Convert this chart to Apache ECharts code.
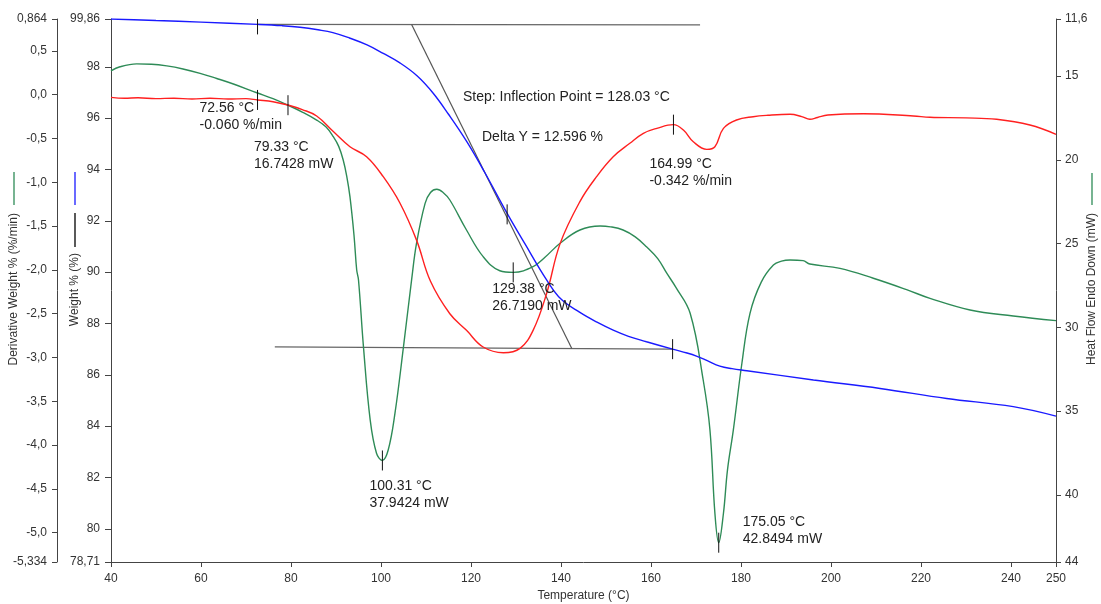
<!DOCTYPE html>
<html>
<head>
<meta charset="utf-8">
<script src="https://cdn.jsdelivr.net/npm/echarts@6/dist/echarts.min.js"></script>
<style>html,body{margin:0;padding:0;background:#fff}#c{width:1101px;height:604px}</style>
</head>
<body>
<div id="c"></div>
<script>
// ---------------- DATA ----------------
// Weight % (blue) vs temperature
const weightTemp = [40, 50, 60, 72.6, 78, 82, 86, 89.3, 93, 96.9, 100.5, 104.2, 108, 111.6, 115, 119, 123, 128, 132, 136.8, 140, 144.2, 148, 151.6, 155, 159, 164.8, 168, 170.1, 172.5, 175.3, 178, 181.3, 196.1, 210.9, 225.7, 240.5, 250];
const weightVal  = [99.86, 99.80, 99.74, 99.65, 99.60, 99.54, 99.44, 99.33, 99.12, 98.85, 98.52, 98.15, 97.65, 96.97, 96.15, 95.1, 93.9, 92.3, 91.1, 89.7, 88.95, 88.43, 88.05, 87.74, 87.5, 87.29, 87.0, 86.85, 86.73, 86.55, 86.34, 86.24, 86.16, 85.8, 85.47, 85.08, 84.76, 84.39];

// Derivative weight %/min (red)
const derivTemp = [40, 43, 46, 50, 54, 58, 62, 66, 70, 72.6, 76, 79.3, 82.5, 85.7, 89.4, 93.1, 96.8, 100.5, 104.2, 107.9, 111, 115.3, 119, 122.7, 127.2, 130.9, 133.8, 136.8, 139.8, 144.2, 147.9, 151.6, 155.3, 158.3, 161.3, 164.99, 167.2, 169.4, 172.4, 174.2, 176.1, 179, 182.7, 186, 190.9, 193.5, 195.3, 197, 199.3, 207.2, 218.3, 222, 230, 236.8, 244.2, 250];
const derivVal  = [-0.03, -0.04, -0.035, -0.045, -0.04, -0.05, -0.04, -0.05, -0.045, -0.06, -0.08, -0.118, -0.17, -0.243, -0.42, -0.594, -0.708, -0.936, -1.236, -1.66, -2.13, -2.50, -2.69, -2.88, -2.945, -2.895, -2.69, -2.27, -1.70, -1.22, -0.936, -0.708, -0.555, -0.441, -0.384, -0.342, -0.403, -0.537, -0.624, -0.594, -0.384, -0.289, -0.251, -0.235, -0.224, -0.25, -0.281, -0.26, -0.232, -0.217, -0.243, -0.258, -0.265, -0.281, -0.346, -0.452];

// Heat flow mW (green)
const heatTemp = [40, 42, 45.7, 49, 52.4, 56, 59.8, 63.5, 67.2, 72.4, 76, 79.3, 82.5, 85.7, 87.8, 89.4, 90.6, 91.6, 92.4, 93.1, 94, 94.6, 95, 96.1, 97.6, 99, 100.3, 101.6, 103.1, 105, 106.8, 107.9, 109.8, 111, 112.4, 113.8, 115.3, 119, 122.7, 126.4, 129.4, 133.8, 136.5, 139.8, 144.2, 148.7, 151, 153.8, 156.5, 159, 161.5, 163.5, 165.5, 168.7, 171.6, 173.1, 174.2, 175.05, 176.1, 177, 178.3, 180.2, 182, 184.5, 187.2, 189, 190.9, 193.8, 195.3, 202, 209.4, 216.8, 222, 230.9, 240.5, 250];
const heatVal  = [14.70, 14.45, 14.28, 14.3, 14.40, 14.58, 14.84, 15.15, 15.48, 16.0, 16.35, 16.74, 17.15, 17.63, 18.05, 18.62, 19.2, 20.01, 21.0, 22.2, 24.5, 26.58, 27.17, 31.15, 35.53, 37.51, 37.94, 37.32, 35.13, 31.15, 27.17, 24.98, 22.6, 21.95, 21.76, 21.95, 22.4, 24.19, 25.78, 26.62, 26.72, 26.38, 25.8, 24.98, 24.19, 23.95, 24.0, 24.19, 24.6, 25.19, 25.9, 26.77, 27.6, 29.16, 33.14, 36.12, 41.09, 42.85, 41.09, 38.5, 36.12, 32.14, 29.16, 27.3, 26.28, 26.05, 25.98, 26.02, 26.22, 26.48, 27.07, 27.75, 28.27, 28.96, 29.32, 29.6];

// Step analysis construction lines (weight axis)
const onsetLineTemp = [72.6, 170.9];
const onsetLineVal  = [99.65, 99.63];
const endLineTemp   = [76.4, 164.8];
const endLineVal    = [87.09, 87.0];
const tangentTemp   = [106.8, 142.4];
const tangentVal    = [99.65, 87.03];

// Marked points
const weightMarkTemp = [72.56, 128.03, 164.8];
const weightMarkVal  = [99.65, 92.25, 87.0];
const derivPeakTemp  = [72.56, 164.99];
const derivPeakVal   = [-0.060, -0.342];
const heatPeakTemp   = [79.33, 100.31, 129.38, 175.05];
const heatPeakVal    = [16.7428, 37.9424, 26.7190, 42.8494];

const stepTexts = ['Step: Inflection Point = 128.03 °C', 'Delta Y = 12.596 %'];

// Tick labels
const tempTicks = [40, 60, 80, 100, 120, 140, 160, 180, 200, 220, 240, 250];
const derivTicks = [0.864, 0.5, 0, -0.5, -1, -1.5, -2, -2.5, -3, -3.5, -4, -4.5, -5, -5.334];
const derivTickLabels = ['0,864', '0,5', '0,0', '-0,5', '-1,0', '-1,5', '-2,0', '-2,5', '-3,0', '-3,5', '-4,0', '-4,5', '-5,0', '-5,334'];
const weightTicks = [99.86, 98, 96, 94, 92, 90, 88, 86, 84, 82, 80, 78.71];
const weightTickLabels = ['99,86', '98', '96', '94', '92', '90', '88', '86', '84', '82', '80', '78,71'];
const heatTicks = [11.6, 15, 20, 25, 30, 35, 40, 44];
const heatTickLabels = ['11,6', '15', '20', '25', '30', '35', '40', '44'];

// ---------------- LAYOUT / STYLE ----------------
const FONT = '"Liberation Sans", Arial, sans-serif';
const C_BLUE = '#1a1aff', C_RED = '#ff2020', C_GREEN = '#2e8b57', C_AX = '#444', C_TXT = '#333';
const derivLabelOffsets = [[-58, 0], [-24, 31]];
const heatLabelOffsets = [[-34, 33], [-13, 17], [-21, 8], [24, -29]];

function pairs(xs, ys) { return xs.map((x, i) => [x, ys[i]]); }
function fmt(ticks, labels) {
  return v => { const i = ticks.findIndex(t => Math.abs(t - v) < 1e-6); return i >= 0 ? labels[i] : ''; };
}
function lineSeries(xs, ys, yIdx, color, width, smooth) {
  return { type: 'line', xAxisIndex: 0, yAxisIndex: yIdx, data: pairs(xs, ys), showSymbol: false, symbol: 'none',
    smooth: smooth, silent: true, lineStyle: { color: color, width: width }, animation: false };
}
function tickSeries(xs, ys, yIdx) {
  return { type: 'custom', xAxisIndex: 0, yAxisIndex: yIdx, data: pairs(xs, ys), silent: true, z: 6, clip: true, animation: false,
    renderItem: (params, api) => {
      const p = api.coord([api.value(0), api.value(1)]);
      return { type: 'line', shape: { x1: p[0], y1: p[1] - 10, x2: p[0], y2: p[1] + 10 }, style: { stroke: '#111', lineWidth: 1 } };
    } };
}
function labelSeries(xs, ys, yIdx, offsets, textFn) {
  return { type: 'custom', xAxisIndex: 0, yAxisIndex: yIdx, data: pairs(xs, ys), silent: true, z: 7, animation: false,
    renderItem: (params, api) => {
      const i = params.dataIndex;
      const p = api.coord([api.value(0), api.value(1)]);
      return { type: 'text', x: p[0] + offsets[i][0], y: p[1] + offsets[i][1],
        style: { text: textFn(xs[i], ys[i]), fontSize: 14, fontFamily: FONT, fill: '#222', align: 'left', verticalAlign: 'top', lineHeight: 17 } };
    } };
}
function yAx(opts) {
  return Object.assign({
    type: 'value', splitLine: { show: false },
    axisLine: { show: true, lineStyle: { color: C_AX, width: 1 } },
    axisTick: { show: true, length: 5, lineStyle: { color: C_AX } },
    axisLabel: { color: C_TXT, fontSize: 12, fontFamily: FONT, margin: 11, showMinLabel: true, showMaxLabel: true }
  }, opts);
}

const chart = echarts.init(document.getElementById('c'), null, { renderer: 'canvas' });
const option = {
  animation: false,
  backgroundColor: '#fff',
  grid: { left: 111, right: 45, top: 19, bottom: 42, containLabel: false, outerBoundsMode: 'none' },
  xAxis: {
    type: 'value', min: 40, max: 250,
    name: 'Temperature (°C)', nameLocation: 'middle', nameGap: 26,
    nameTextStyle: { color: C_TXT, fontSize: 12, fontFamily: FONT },
    splitLine: { show: false },
    axisLine: { onZero: false, lineStyle: { color: C_AX } },
    axisTick: { length: 5, customValues: tempTicks, lineStyle: { color: C_AX } },
    axisLabel: { customValues: tempTicks, color: C_TXT, fontSize: 12, fontFamily: FONT, margin: 11 }
  },
  yAxis: [
    yAx({ min: 78.71, max: 99.86, position: 'left', offset: 0,
      axisTick: { show: true, length: 6, customValues: weightTicks, lineStyle: { color: C_AX } },
      axisLabel: { customValues: weightTicks, formatter: fmt(weightTicks, weightTickLabels), color: C_TXT, fontSize: 12, fontFamily: FONT, margin: 11 } }),
    yAx({ min: -5.334, max: 0.864, position: 'left', offset: 54,
      axisTick: { show: true, length: 5, customValues: derivTicks, lineStyle: { color: C_AX } },
      axisLabel: { customValues: derivTicks, formatter: fmt(derivTicks, derivTickLabels), color: C_TXT, fontSize: 12, fontFamily: FONT, margin: 10 } }),
    yAx({ min: 11.6, max: 44, inverse: true, position: 'right', offset: 0,
      axisTick: { show: true, length: 5, customValues: heatTicks, lineStyle: { color: C_AX } },
      axisLabel: { customValues: heatTicks, formatter: fmt(heatTicks, heatTickLabels), color: C_TXT, fontSize: 12, fontFamily: FONT, margin: 9 } })
  ],
  series: [
    lineSeries(onsetLineTemp, onsetLineVal, 0, '#666', 1.2, false),
    lineSeries(endLineTemp, endLineVal, 0, '#666', 1.2, false),
    lineSeries(tangentTemp, tangentVal, 0, '#555', 1.2, false),
    lineSeries(heatTemp, heatVal, 2, C_GREEN, 1.4, 0.4),
    lineSeries(derivTemp, derivVal, 1, C_RED, 1.4, 0.4),
    lineSeries(weightTemp, weightVal, 0, C_BLUE, 1.4, 0.4),
    tickSeries(weightMarkTemp, weightMarkVal, 0),
    tickSeries(derivPeakTemp, derivPeakVal, 1),
    tickSeries(heatPeakTemp, heatPeakVal, 2),
    labelSeries(derivPeakTemp, derivPeakVal, 1, derivLabelOffsets, (t, v) => t.toFixed(2) + ' °C\n' + v.toFixed(3) + ' %/min'),
    labelSeries(heatPeakTemp, heatPeakVal, 2, heatLabelOffsets, (t, v) => t.toFixed(2) + ' °C\n' + v.toFixed(4) + ' mW')
  ],
  graphic: [
    { type: 'text', x: 463, y: 97, silent: true, style: { text: stepTexts[0], fontSize: 14, fontFamily: FONT, fill: '#222', align: 'left', verticalAlign: 'middle' } },
    { type: 'text', x: 482, y: 137, silent: true, style: { text: stepTexts[1], fontSize: 14, fontFamily: FONT, fill: '#222', align: 'left', verticalAlign: 'middle' } },
    // axis titles with legend strokes
    { type: 'line', silent: true, shape: { x1: 14, y1: 172, x2: 14, y2: 205 }, style: { stroke: C_GREEN, lineWidth: 1.3 } },
    { type: 'text', x: 14, y: 213, rotation: Math.PI / 2, silent: true, style: { text: 'Derivative Weight % (%/min)', fontSize: 12, fontFamily: FONT, fill: C_TXT, align: 'right', verticalAlign: 'middle' } },
    { type: 'line', silent: true, shape: { x1: 75, y1: 172, x2: 75, y2: 205 }, style: { stroke: C_BLUE, lineWidth: 1.3 } },
    { type: 'line', silent: true, shape: { x1: 75, y1: 213, x2: 75, y2: 247 }, style: { stroke: '#000', lineWidth: 1.3 } },
    { type: 'text', x: 75, y: 253, rotation: Math.PI / 2, silent: true, style: { text: 'Weight % (%)', fontSize: 12, fontFamily: FONT, fill: C_TXT, align: 'right', verticalAlign: 'middle' } },
    { type: 'line', silent: true, shape: { x1: 1092, y1: 173, x2: 1092, y2: 205 }, style: { stroke: C_GREEN, lineWidth: 1.3 } },
    { type: 'text', x: 1092, y: 213, rotation: Math.PI / 2, silent: true, style: { text: 'Heat Flow Endo Down (mW)', fontSize: 12, fontFamily: FONT, fill: C_TXT, align: 'right', verticalAlign: 'middle' } }
  ]
};
chart.setOption(option);
</script>
</body>
</html>
